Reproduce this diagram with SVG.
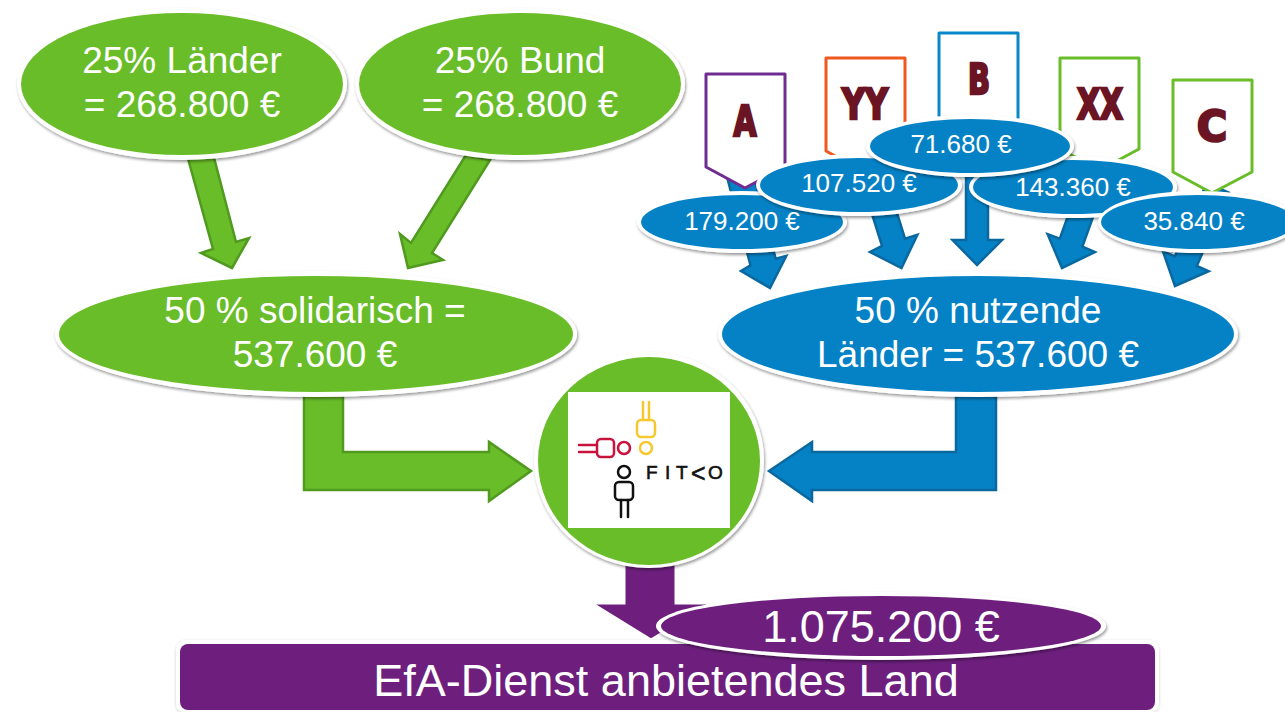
<svg xmlns="http://www.w3.org/2000/svg" width="1285" height="712" viewBox="0 0 1285 712">
<style>
text{font-family:"Liberation Sans",Arial,sans-serif;fill:#fff;text-anchor:middle}
.big{font-size:37px}
.mid{font-size:26px}
.xl{font-size:45px}
.halo{fill:#fff;filter:url(#sh)}
.g{fill:#69bd28}
.b{fill:#0582c6}
.p{fill:#6e1f7e}
.ga{fill:#69bd28;stroke:#4f9a1f;stroke-width:2.5;stroke-linejoin:miter}
.ba{fill:#0582c6;stroke:#0a689f;stroke-width:2.5;stroke-linejoin:miter}
.pa{fill:#6e1f7e;stroke:#fff;stroke-width:3}
.ban{fill:#fff;stroke-width:3;stroke-linejoin:round}
.let{font-family:"DejaVu Sans Condensed","DejaVu Sans",sans-serif;font-weight:bold;font-size:42px;fill:#6b1424;stroke:#6b1424;stroke-width:2.5}
.ln{fill:none;stroke-width:2.5;stroke-linecap:round}
.fit{font-size:19px;fill:#111;stroke:#111;stroke-width:.6;text-anchor:start}
</style>
<defs>
<filter id="sh" x="-10%" y="-15%" width="120%" height="130%">
<feDropShadow dx="1" dy="2" stdDeviation="1.5" flood-color="#000" flood-opacity="0.4"/>
</filter>
<filter id="shr" x="-2%" y="-10%" width="104%" height="120%">
<feDropShadow dx="0" dy="1" stdDeviation="1.5" flood-color="#000" flood-opacity="0.2"/>
</filter>
</defs>
<rect width="1285" height="712" fill="#fff"/>
<g id="connectors">
<polygon class="ga" points="187,155 212,150 236,242 249,238 232,268 201,253 213,249"/>
<polygon class="ga" points="466,155 490,160 432,253 443,260 408,268 400,234 411,243"/>
<polygon class="ga" points="304,390 343,390 343,452 489,452 489,442 531,471 489,501 489,490 304,490"/>
<polygon class="ba" points="996,390 956,390 956,452 812,452 812,442 769,471 812,501 812,490 996,490"/>
<polygon class="ba" points="752.6,171.7 727.4,178.3 750.5,265.3 741,271 770,288 786.3,255.9 775.7,258.7"/>
<polygon class="ba" points="890,190.8 867,198 882,245.8 870,252 901.5,268 917.4,234.8 905,238.6"/>
<polygon class="ba" points="966,165 988,165 988,240 1002,240 977,265 952.5,240 966,240"/>
<polygon class="ba" points="1099.3,199.6 1076.7,191.6 1059.8,238.6 1047.6,234.2 1062,268 1095,252 1082.4,246.6"/>
<polygon class="ba" points="1228.8,192.6 1206.8,183 1174.8,256.4 1162.9,251.2 1175,286 1208.7,271.2 1196.8,266"/>
<polygon class="pa" points="624,560 676,560 676,603 712,603 651,640 591,603 624,603"/>
</g>
<g id="banner-a">
<polygon class="ban" stroke="#6f2c91" points="706,74 785,74 785,167 745,188 706,167"/>
<text class="let" x="745" y="136" textLength="23" lengthAdjust="spacingAndGlyphs">A</text>
</g>
<g id="banner-yy">
<polygon class="ban" stroke="#f0591e" points="826,58 905,58 905,151 865,172 826,151"/>
<text class="let" x="865" y="119" textLength="46" lengthAdjust="spacingAndGlyphs">YY</text>
</g>
<g id="banner-b">
<polygon class="ban" stroke="#0a87c9" points="939,33 1018,33 1018,127 979,148 939,127"/>
<text class="let" x="979" y="94" textLength="22" lengthAdjust="spacingAndGlyphs">B</text>
</g>
<g id="banner-xx">
<polygon class="ban" stroke="#69bd28" points="1060,58 1139,58 1139,149 1100,170 1060,149"/>
<text class="let" x="1100" y="119" textLength="46" lengthAdjust="spacingAndGlyphs">XX</text>
</g>
<g id="banner-c">
<polygon class="ban" stroke="#69bd28" points="1173,80 1252,80 1252,172 1212,193 1173,172"/>
<text class="let" x="1212" y="141" textLength="30" lengthAdjust="spacingAndGlyphs">C</text>
</g>
<g id="node-laender">
<ellipse class="halo" cx="182" cy="84" rx="165" ry="76"/>
<ellipse class="g" cx="182" cy="84" rx="161" ry="71"/>
<text class="big" x="182" y="73">25% Länder</text>
<text class="big" x="182" y="117">= 268.800 €</text>
</g>
<g id="node-bund">
<ellipse class="halo" cx="520" cy="84" rx="165" ry="76"/>
<ellipse class="g" cx="520" cy="84" rx="161" ry="71"/>
<text class="big" x="520" y="73">25% Bund</text>
<text class="big" x="520" y="117">= 268.800 €</text>
</g>
<g id="node-solidarisch">
<ellipse class="halo" cx="316" cy="334" rx="261" ry="63"/>
<ellipse class="g" cx="316" cy="334" rx="257" ry="58"/>
<text class="big" x="315" y="323">50 % solidarisch =</text>
<text class="big" x="315" y="367">537.600 €</text>
</g>
<g id="node-nutzende">
<ellipse class="halo" cx="978" cy="334" rx="260" ry="63"/>
<ellipse class="b" cx="978" cy="334" rx="256" ry="58"/>
<text class="big" x="978" y="323">50 % nutzende</text>
<text class="big" x="978" y="367">Länder = 537.600 €</text>
</g>
<g id="node-179200">
<ellipse class="halo" cx="742" cy="222" rx="105" ry="31"/>
<ellipse class="b" cx="742" cy="222" rx="101" ry="27"/>
<text class="mid" x="742" y="230">179.200 €</text>
</g>
<g id="node-107520">
<ellipse class="halo" cx="859" cy="185" rx="103" ry="31"/>
<ellipse class="b" cx="859" cy="185" rx="99" ry="27"/>
<text class="mid" x="859" y="192">107.520 €</text>
</g>
<g id="node-143360">
<ellipse class="halo" cx="1073" cy="187" rx="104" ry="31"/>
<ellipse class="b" cx="1073" cy="187" rx="100" ry="27"/>
<text class="mid" x="1073" y="196">143.360 €</text>
</g>
<g id="node-71680">
<ellipse class="halo" cx="970" cy="146" rx="104" ry="31"/>
<ellipse class="b" cx="970" cy="146" rx="100" ry="27"/>
<text class="mid" x="961" y="153">71.680 €</text>
</g>
<g id="node-35840">
<ellipse class="halo" cx="1198" cy="222" rx="100" ry="31"/>
<ellipse class="b" cx="1198" cy="222" rx="97" ry="27"/>
<text class="mid" x="1194" y="230">35.840 €</text>
</g>
<g id="node-fitko">
<ellipse class="halo" cx="649" cy="460" rx="115" ry="108"/>
<ellipse class="g" cx="649" cy="461" rx="111" ry="104"/>
<rect x="568" y="392" width="162" height="136" fill="#fff"/>
<g stroke="#c8143c" class="ln">
<path d="M579 445H597M579 452H597"/>
<rect x="597" y="439" width="17" height="18" rx="4"/>
<circle cx="624" cy="448" r="6"/>
</g>
<g stroke="#f5c92d" class="ln">
<path d="M643 402V420M649 402V420"/>
<rect x="637" y="420" width="18" height="17" rx="4"/>
<circle cx="646" cy="448" r="6"/>
</g>
<g stroke="#111" class="ln">
<circle cx="624" cy="472" r="6"/>
<rect x="615" y="482" width="18" height="18" rx="4"/>
<path d="M621 500V517M628 500V517"/>
</g>
<text class="fit" y="479"><tspan x="646 665 676">FIT</tspan><tspan x="691" dy="3" font-size="25">&lt;</tspan><tspan x="708" dy="-3">O</tspan></text>
</g>
<g id="node-land">
<rect x="176" y="640" width="983" height="73" rx="10" fill="#fff" filter="url(#shr)"/>
<rect x="180" y="644" width="975" height="66" rx="8" class="p"/>
<text class="xl" x="666" y="696">EfA-Dienst anbietendes Land</text>
</g>
<g id="node-total">
<ellipse class="halo" cx="881" cy="626" rx="225" ry="34"/>
<ellipse class="p" cx="881" cy="626" rx="220" ry="30"/>
<text class="xl" x="881" y="642">1.075.200 €</text>
</g>
</svg>
